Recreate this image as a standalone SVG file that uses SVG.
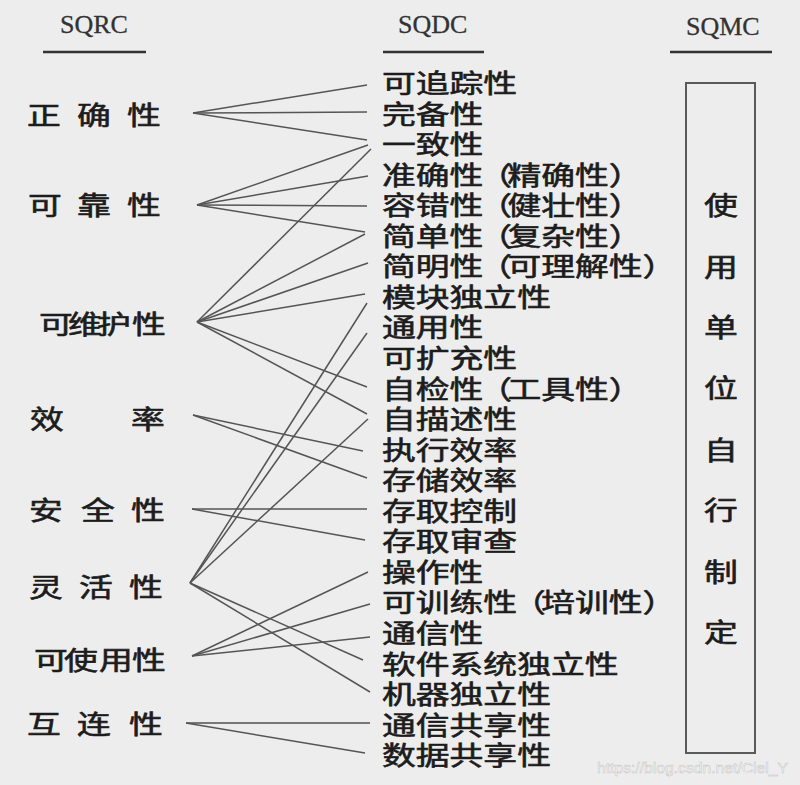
<svg xmlns="http://www.w3.org/2000/svg" width="800" height="785" viewBox="0 0 800 785">
<style>
.bg{fill:#ededed}
.hd{font-family:"Liberation Serif","Times New Roman",serif;font-size:26px;fill:#333;stroke:#333;stroke-width:0.3}
.ul{stroke:#333;stroke-width:2.5}
.cj{font-family:"Noto Sans CJK SC","Noto Sans CJK JP",sans-serif;font-size:26px;fill:#1c1c1c;stroke:#1c1c1c;stroke-width:0.6}
.bx{fill:none;stroke:#5a5a5a;stroke-width:2}
.cn line{stroke:#555;stroke-width:1.5;fill:none}
.wm{font-family:"Liberation Sans",Arial,sans-serif;font-size:15px;fill:#fafafa;stroke:#c4c4c4;stroke-width:0.5}
</style>
<rect class="bg" x="0" y="0" width="800" height="785"/>

<g id="headers">
<text class="hd" x="60" y="33">SQRC</text>
<line class="ul" x1="43" y1="52" x2="146" y2="52"/>
<text class="hd" x="398" y="33">SQDC</text>
<line class="ul" x1="383" y1="52" x2="484" y2="52"/>
<text class="hd" x="686" y="35">SQMC</text>
<line class="ul" x1="670" y1="52" x2="772" y2="52"/>
</g>

<g id="connectors" class="cn">
<line x1="193" y1="113" x2="367" y2="85"/>
<line x1="193" y1="113" x2="367" y2="112"/>
<line x1="193" y1="113" x2="367" y2="140"/>
<line x1="197" y1="205" x2="368" y2="145"/>
<line x1="197" y1="205" x2="368" y2="176"/>
<line x1="197" y1="205" x2="367" y2="206"/>
<line x1="197" y1="205" x2="365" y2="232"/>
<line x1="197" y1="322" x2="371" y2="149"/>
<line x1="197" y1="322" x2="365" y2="234"/>
<line x1="197" y1="322" x2="368" y2="263"/>
<line x1="197" y1="322" x2="365" y2="294"/>
<line x1="197" y1="322" x2="367" y2="387"/>
<line x1="197" y1="322" x2="367" y2="414"/>
<line x1="193" y1="415" x2="363" y2="451"/>
<line x1="193" y1="415" x2="367" y2="478"/>
<line x1="192" y1="509" x2="367" y2="509"/>
<line x1="192" y1="509" x2="365" y2="540"/>
<line x1="190" y1="583" x2="367" y2="303"/>
<line x1="190" y1="583" x2="367" y2="333"/>
<line x1="190" y1="583" x2="368" y2="419"/>
<line x1="190" y1="583" x2="363" y2="660"/>
<line x1="190" y1="583" x2="370" y2="692"/>
<line x1="192" y1="656" x2="368" y2="572"/>
<line x1="192" y1="656" x2="370" y2="604"/>
<line x1="192" y1="656" x2="370" y2="637"/>
<line x1="186" y1="723" x2="370" y2="723" style="stroke:#777;stroke-width:2.2"/>
<line x1="186" y1="723" x2="365" y2="753"/>
</g>

<g id="sqrc">
<g id="n-zhengque"><text class="cj" transform="translate(27,125) scale(1.3,1)" x="0 38.5 77">正确性</text></g>
<g id="n-kekao"><text class="cj" transform="translate(28,215) scale(1.3,1)" x="0 37.7 76.2">可靠性</text></g>
<g id="n-keweihu"><text class="cj" transform="translate(39,334) scale(1.3,1)" x="0 22.3 44.6 71.5">可维护性</text></g>
<g id="n-xiaolv"><text class="cj" transform="translate(30,429) scale(1.3,1)" x="0 77.7">效率</text></g>
<g id="n-anquan"><text class="cj" transform="translate(29,520) scale(1.3,1)" x="0 40 78.5">安全性</text></g>
<g id="n-linghuo"><text class="cj" transform="translate(29,597) scale(1.3,1)" x="0 38.5 77">灵活性</text></g>
<g id="n-keshiyong"><text class="cj" transform="translate(34,670) scale(1.3,1)" x="0 23 50 75.4">可使用性</text></g>
<g id="n-hulian"><text class="cj" transform="translate(27,734) scale(1.3,1)" x="0 38.5 78.5">互连性</text></g>
</g>

<g id="sqdc">
<g id="d01"><text class="cj" transform="translate(382,93) scale(1.3,1)">可追踪性</text></g>
<g id="d02"><text class="cj" transform="translate(382,123.6) scale(1.3,1)">完备性</text></g>
<g id="d03"><text class="cj" transform="translate(382,154.1) scale(1.3,1)">一致性</text></g>
<g id="d04"><text class="cj" transform="translate(382,184.7) scale(1.3,1)">准确性<tspan dx="-4">（</tspan><tspan dx="-3.5">精</tspan>确性）</text></g>
<g id="d05"><text class="cj" transform="translate(382,215.2) scale(1.3,1)">容错性<tspan dx="-4">（</tspan><tspan dx="-3.5">健</tspan>壮性）</text></g>
<g id="d06"><text class="cj" transform="translate(382,245.8) scale(1.3,1)">简单性<tspan dx="-4">（</tspan><tspan dx="-3.5">复</tspan>杂性）</text></g>
<g id="d07"><text class="cj" transform="translate(382,276.3) scale(1.3,1)">简明性<tspan dx="-4">（</tspan><tspan dx="-3.5">可</tspan>理解性）</text></g>
<g id="d08"><text class="cj" transform="translate(382,306.9) scale(1.3,1)">模块独立性</text></g>
<g id="d09"><text class="cj" transform="translate(382,337.4) scale(1.3,1)">通用性</text></g>
<g id="d10"><text class="cj" transform="translate(382,368) scale(1.3,1)">可扩充性</text></g>
<g id="d11"><text class="cj" transform="translate(382,398.5) scale(1.3,1)">自检性<tspan dx="-4">（</tspan><tspan dx="-3.5">工</tspan>具性）</text></g>
<g id="d12"><text class="cj" transform="translate(382,429.1) scale(1.3,1)">自描述性</text></g>
<g id="d13"><text class="cj" transform="translate(382,459.6) scale(1.3,1)">执行效率</text></g>
<g id="d14"><text class="cj" transform="translate(382,490.2) scale(1.3,1)">存储效率</text></g>
<g id="d15"><text class="cj" transform="translate(382,520.7) scale(1.3,1)">存取控制</text></g>
<g id="d16"><text class="cj" transform="translate(382,551.3) scale(1.3,1)">存取审查</text></g>
<g id="d17"><text class="cj" transform="translate(382,581.8) scale(1.3,1)">操作性</text></g>
<g id="d18"><text class="cj" transform="translate(382,612.4) scale(1.3,1)">可训练性<tspan dx="-4">（</tspan><tspan dx="-3.5">培</tspan>训性）</text></g>
<g id="d19"><text class="cj" transform="translate(382,642.9) scale(1.3,1)">通信性</text></g>
<g id="d20"><text class="cj" transform="translate(382,673.5) scale(1.3,1)">软件系统独立性</text></g>
<g id="d21"><text class="cj" transform="translate(382,704) scale(1.3,1)">机器独立性</text></g>
<g id="d22"><text class="cj" transform="translate(382,734.6) scale(1.3,1)">通信共享性</text></g>
<g id="d23"><text class="cj" transform="translate(382,765.1) scale(1.3,1)">数据共享性</text></g>
</g>

<g id="sqmc">
<rect class="bx" x="686" y="83" width="69" height="670"/>
<g class="cj" text-anchor="middle">
<text transform="translate(721,215) scale(1.3,1)">使</text>
<text transform="translate(721,277) scale(1.3,1)">用</text>
<text transform="translate(721,337) scale(1.3,1)">单</text>
<text transform="translate(721,398) scale(1.3,1)">位</text>
<text transform="translate(721,460) scale(1.3,1)">自</text>
<text transform="translate(721,520) scale(1.3,1)">行</text>
<text transform="translate(721,582) scale(1.3,1)">制</text>
<text transform="translate(721,642) scale(1.3,1)">定</text>
</g>
</g>

<text class="wm" x="597" y="773" textLength="191" lengthAdjust="spacingAndGlyphs">https://blog.csdn.net/Ciel_Y</text>
</svg>
